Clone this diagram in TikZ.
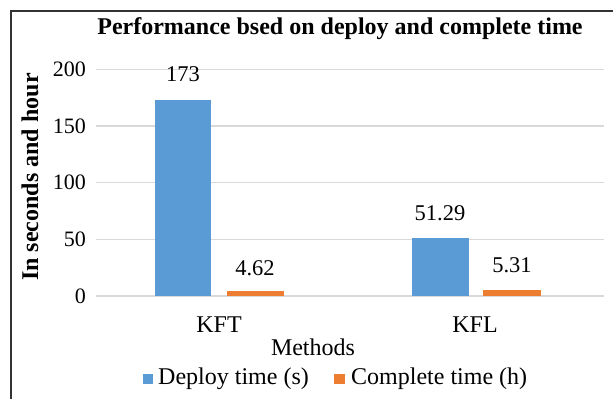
\documentclass[tikz,border=0pt]{standalone}
\usepackage{fontspec}
\setmainfont{Liberation Serif}
\definecolor{barblue}{HTML}{5B9BD5}
\definecolor{barorange}{HTML}{ED7D31}
\definecolor{gridgray}{HTML}{D9D9D9}
\definecolor{framegray}{HTML}{333333}
\tikzset{
  ticklabel/.style={anchor=east, inner sep=0pt, font=\fontsize{22}{22}\selectfont},
  vallabel/.style={inner sep=0pt, font=\fontsize{22.5}{22.5}\selectfont},
  catlabel/.style={inner sep=0pt, font=\fontsize{24}{24}\selectfont},
  legendlabel/.style={anchor=west, inner sep=0pt, font=\fontsize{24}{24}\selectfont},
  gridline/.style={draw=gridgray, line width=1.2pt},
  bluebar/.style={fill=barblue},
  orangebar/.style={fill=barorange},
}
\begin{document}
\begin{tikzpicture}[x=1pt, y=-1pt]
\useasboundingbox (0,0) rectangle (613,399);
\fill[white] (0,0) rectangle (613,399);
% frame edges
\draw[framegray, line width=2pt] (11,399) -- (11,11) -- (613,11);
% title
\node[font=\bfseries\fontsize{24}{24}\selectfont, inner sep=0pt] (title) at (340,29) {Performance bsed on deploy and complete time};
% grid and tick labels
\foreach \v/\py in {0/296, 50/239.3, 100/182.6, 150/125.9, 200/69.2} {
  \draw[gridline] (96,\py) -- (604,\py);
  \node[ticklabel] (tick\v) at (86,\py) {\v};
}
% y-axis title
\node[rotate=90, font=\bfseries\fontsize{24}{24}\selectfont, inner sep=0pt] (ytitle) at (30,177) {In seconds and hour};
% bars
\fill[bluebar] (155,296) rectangle (211,99.8);
\fill[orangebar] (227,296) rectangle (284,290.8);
\fill[bluebar] (412,296) rectangle (469,237.8);
\fill[orangebar] (483,296) rectangle (541,290);
% value labels
\node[vallabel] (v1) at (183,74) {173};
\node[vallabel] (v2) at (255,268) {4.62};
\node[vallabel] (v3) at (440,213) {51.29};
\node[vallabel] (v4) at (512,265) {5.31};
% category labels and axis title
\node[catlabel] (kft) at (219,325) {KFT};
\node[catlabel] (kfl) at (475,325) {KFL};
\node[catlabel] (methods) at (313,347) {Methods};
% legend
\fill[barblue] (143,374) rectangle (153,384);
\node[legendlabel] (leg1) at (158,379) {Deploy time (s)};
\fill[barorange] (334,374) rectangle (345,384);
\node[legendlabel] (leg2) at (351,379) {Complete time (h)};
\end{tikzpicture}
\end{document}
